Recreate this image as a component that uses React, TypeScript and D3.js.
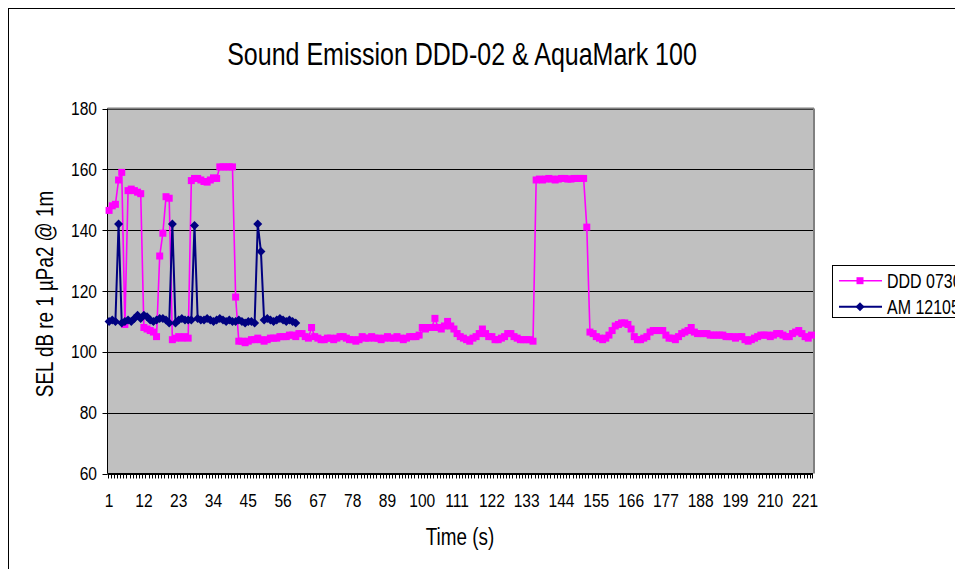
import React, { useEffect } from "react";
import * as d3 from "d3";

// time axis: one category per second, 1..223
const seconds: number[] = d3.range(1, 224);

// DDD 0730, SEL in dB, one value per second
const ddd0730: number[] = [
  146.5, 148, 148.5, 156.5, 159, 109, 153, 153.5, 153, 152.5,
  152, 108, 107.5, 107, 106.5, 105, 131.5, 139, 151, 150.5,
  104, 104.5, 105, 104.5, 105, 104.5, 156.3, 157, 157, 156.5,
  156, 155.8, 156.5, 157.2, 157, 160.8, 160.8, 160.8, 160.8, 160.8,
  118, 103.5, 103.5, 103, 103.5, 104, 104, 104.5, 104, 103.5,
  104, 104.5, 104.5, 104.5, 105, 105, 105, 105.5, 105.5, 105,
  106, 106, 105, 104.5, 108, 105, 104.5, 104, 104, 104.5,
  104.5, 104, 104.5, 105, 105, 104.5, 104, 104, 103.5, 104,
  105, 104.5, 104.5, 105, 104.5, 104.5, 104, 104.5, 105, 104.5,
  104.5, 105, 104.5, 104, 104.5, 105, 105, 105, 105.5, 108,
  107.5, 108, 108, 111, 108, 107.5, 108.5, 110, 108.5, 107.5,
  106, 105, 104.5, 104, 103.5, 104.5, 105, 106, 107.5, 106,
  105, 105, 104, 104, 104.5, 105, 106, 106, 105, 104.5,
  104, 104, 104, 104, 103.5, 156.5, 156.8, 156.5, 156.8, 157,
  156.8, 156.5, 156.8, 157, 157, 156.8, 156.8, 157, 157, 157,
  157, 141, 106.5, 106, 105, 104.5, 104, 104.5, 105.5, 107,
  108.5, 109, 109.5, 109.5, 109, 107.5, 105, 104, 104, 104.5,
  105, 106.5, 107, 107, 107, 107, 105.5, 104.5, 104.5, 104,
  105, 106, 106.5, 107, 108, 106.5, 106, 106, 106, 106,
  105.5, 105.5, 105.5, 105.5, 105.5, 105, 105, 105, 104.5, 105,
  105, 104, 103.5, 104, 104.5, 105, 105.5, 105.5, 105.5, 105,
  105.5, 106, 106, 105.5, 105, 105, 106, 106.5, 107, 106,
  105, 104.5, 105.5,
];

// AM 12105, recorded for the first 60 seconds only
const am12105: number[] = [
  110, 110.5, 110, 142, 109.5, 110, 110.5, 110, 111, 112,
  111, 112, 111.5, 110.5, 110, 110.5, 111, 111, 110.5, 109.5,
  142, 109.5, 110.5, 111, 110.5, 110.5, 110.5, 141.5, 111, 110.5,
  110.5, 111, 110.5, 110, 110.5, 111, 110.5, 110, 110.5, 110,
  110, 110.5, 110, 109.5, 110, 110, 109.5, 142, 133, 110.5,
  111, 110.5, 110, 110.5, 111, 110.5, 110, 110.5, 110, 109.5,
];

const yTicks: number[] = [60, 80, 100, 120, 140, 160, 180];
const seriesNames: string[] = ["DDD 0730", "AM 12105"];

const FONT = "'Liberation Sans', Arial, sans-serif";
const MAGENTA = "#FF00FF";
const NAVY = "#000080";

// the original uses a narrow face; squeeze Liberation Sans to match
const NText: React.FC<{
  x: number;
  y: number;
  size: number;
  anchor?: "start" | "middle" | "end";
  rotate?: boolean;
  middle?: boolean;
  children: React.ReactNode;
}> = ({ x, y, size, anchor = "start", rotate, middle, children }) => (
  <text
    transform={`translate(${x},${y})${rotate ? " rotate(-90)" : ""} scale(0.82,1)`}
    textAnchor={anchor}
    dy={middle ? "0.35em" : undefined}
    fontSize={size}
    fill="#000"
  >
    {children}
  </text>
);

const App: React.FC = () => {
  useEffect(() => {
    document.documentElement.style.overflow = "hidden";
    document.body.style.overflow = "hidden";
  }, []);

  const left = 99.5;
  const right = 805;
  const top = 100.5;
  const bottom = 465.5;

  const x = d3
    .scaleBand<string>()
    .domain(seconds.map(String))
    .range([left, right])
    .padding(0);
  const cx = (i: number) => (x(String(seconds[i])) ?? 0) + x.bandwidth() / 2;

  const y = d3.scaleLinear().domain([60, 180]).range([bottom, top]);

  const line = d3
    .line<number>()
    .x((_, i) => cx(i))
    .y((d) => y(d));

  const diamond = (s: number) => `M0,${-s}L${s},0L0,${s}L${-s},0Z`;

  const labelled = seconds.filter((s) => (s - 1) % 11 === 0);

  return (
    <svg width={955} height={561} style={{ display: "block" }} fontFamily={FONT}>
      {/* chart area */}
      <rect x={0.5} y={0.5} width={1000} height={600} fill="#fff" stroke="#000" strokeWidth={1} />

      <NText x={454} y={57} size={30.5} anchor="middle">
        Sound Emission DDD-02 &amp; AquaMark 100
      </NText>

      {/* plot area */}
      <rect x={left} y={top} width={right - left} height={bottom - top} fill="#C0C0C0" />
      {yTicks.map((t) => (
        <line key={t} x1={left} x2={right} y1={Math.round(y(t)) + 0.5} y2={Math.round(y(t)) + 0.5} stroke="#000" strokeWidth={1} />
      ))}
      <line x1={left} x2={right + 1} y1={top} y2={top} stroke="#808080" strokeWidth={2} />
      <line x1={right + 1} x2={right + 1} y1={top} y2={bottom} stroke="#808080" strokeWidth={2} />

      {/* axes */}
      <line x1={left} x2={left} y1={top} y2={bottom} stroke="#000" strokeWidth={1} />
      <line x1={left} x2={right} y1={bottom} y2={bottom} stroke="#000" strokeWidth={1} />
      {yTicks.map((t) => (
        <g key={t}>
          <line x1={left - 5} x2={left} y1={Math.round(y(t)) + 0.5} y2={Math.round(y(t)) + 0.5} stroke="#000" />
          <NText x={89} y={y(t)} size={19} anchor="end" middle>
            {t}
          </NText>
        </g>
      ))}
      {seconds.map((s) => (
        <line
          key={s}
          x1={Math.round(x(String(s)) ?? 0) + 0.5}
          x2={Math.round(x(String(s)) ?? 0) + 0.5}
          y1={bottom}
          y2={bottom + 5}
          stroke="#000"
          strokeWidth={1}
        />
      ))}
      <line x1={right - 0.5} x2={right - 0.5} y1={bottom} y2={bottom + 5} stroke="#000" />
      {labelled.map((s) => (
        <NText key={s} x={cx(s - 1)} y={499} size={19} anchor="middle">
          {s}
        </NText>
      ))}

      <NText x={452} y={537} size={23} anchor="middle">
        Time (s)
      </NText>
      <NText x={37} y={286} size={23} anchor="middle" rotate middle>
        SEL dB re 1 µPa2 @ 1m
      </NText>

      {/* series */}
      <path d={line(ddd0730) ?? ""} fill="none" stroke={MAGENTA} strokeWidth={1.6} />
      {ddd0730.map((v, i) => (
        <rect key={i} x={cx(i) - 3.5} y={y(v) - 3.5} width={7} height={7} fill={MAGENTA} />
      ))}
      <path d={line(am12105) ?? ""} fill="none" stroke={NAVY} strokeWidth={2} />
      {am12105.map((v, i) => (
        <path key={i} d={diamond(4.5)} transform={`translate(${cx(i)},${y(v)})`} fill={NAVY} />
      ))}

      {/* legend */}
      <rect x={824.5} y={257.5} width={200} height={52} fill="#fff" stroke="#000" strokeWidth={1} />
      {seriesNames.map((name, k) => {
        const ly = k === 0 ? 272.7 : 298.7;
        const col = k === 0 ? MAGENTA : NAVY;
        return (
          <g key={name}>
            <line x1={831} x2={874} y1={ly} y2={ly} stroke={col} strokeWidth={k === 0 ? 1.6 : 2} />
            {k === 0 ? (
              <rect x={848.5} y={ly - 3.5} width={7} height={7} fill={col} />
            ) : (
              <path d={diamond(4.5)} transform={`translate(852,${ly})`} fill={col} />
            )}
            <NText x={879} y={ly} size={19.5} middle>
              {name}
            </NText>
          </g>
        );
      })}
    </svg>
  );
};

export default App;
